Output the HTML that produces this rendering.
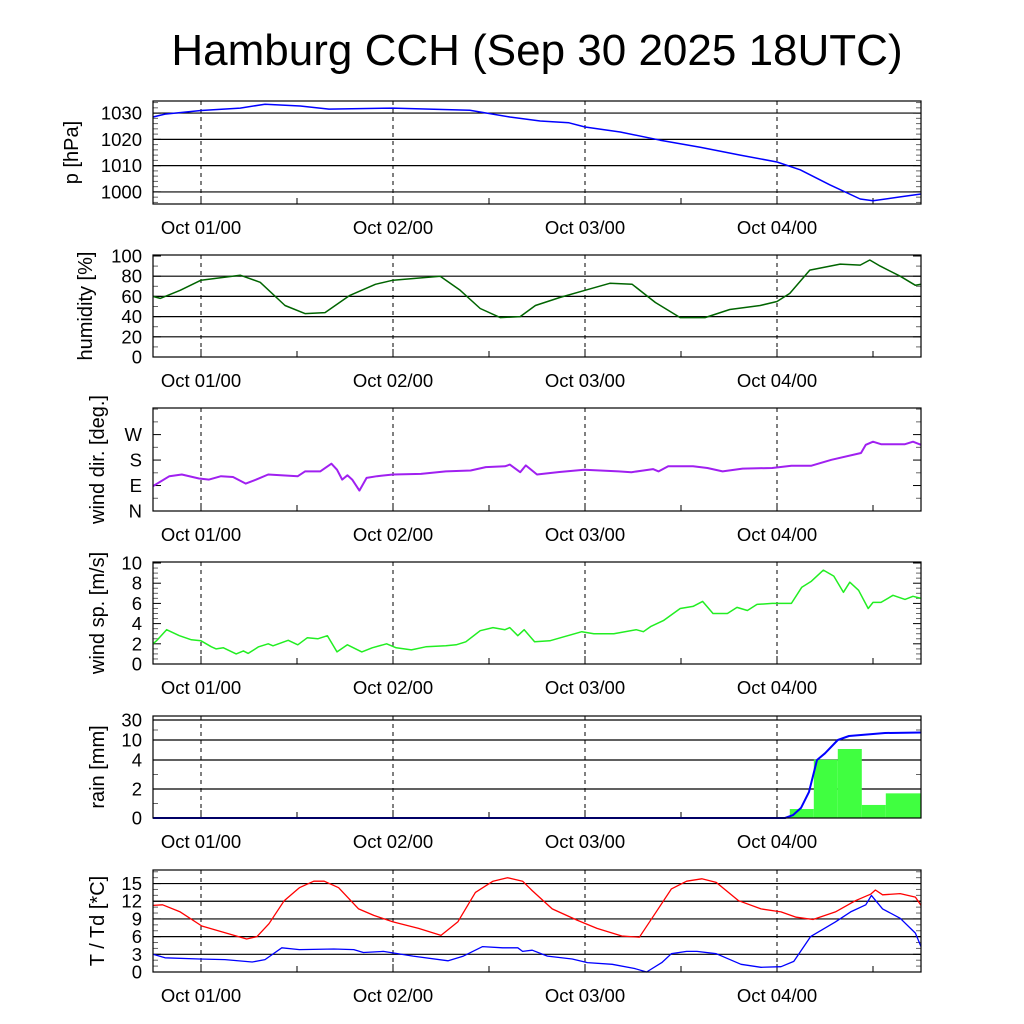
<!DOCTYPE html>
<html><head><meta charset="utf-8"><style>
body{margin:0;background:#fff;}
svg{display:block;font-family:"Liberation Sans",sans-serif;}
</style></head><body>
<svg id="chart" width="1024" height="1024" viewBox="0 0 1024 1024">
<text x="537" y="65" font-size="44" text-anchor="middle">Hamburg CCH (Sep 30 2025 18UTC)</text>
</svg>
<script>
// ---- data ----
const dayLabels = ["Oct 01/00","Oct 02/00","Oct 03/00","Oct 04/00"];
const dayHours = [6,30,54,78];
const presH = [0,1.5,6,10.9,14,18.4,22,30,39.6,44.6,48.4,52,54,58.4,63.4,68.4,73.4,78,80.9,84.6,88.4,90,93.4,96];
const presV = [1028.5,1029.6,1031,1031.9,1033.4,1032.7,1031.5,1031.9,1031.1,1028.5,1027,1026.3,1024.7,1022.8,1019.7,1017,1014,1011.4,1008.4,1002.7,997.3,996.6,998.1,999.2];
const humH = [0,0.9,3.4,6,10.9,13.4,16.5,19,21.5,24.6,27.8,30,35.9,38.4,40.9,43.4,45.9,47.8,50.9,54,57.1,59.9,62.8,65.9,69,72.1,75.9,78,79.6,82.1,85.9,88.4,89.6,90.9,93.4,95.3,96];
const humV = [60,58,66,76,81,74,51,43,44,61,72,76,80,66,48,39,40,51,59,66,73,72,54,39,39,47,51,55,63,86,92,91,96,90,80,71,72];
const dirH = [0,2.05,3.6,5.75,7,8.5,10,11.6,12.9,14.4,18.1,19,20.9,22.3,23,23.65,24.3,24.9,25.8,26.7,28,30,33.5,36.6,39.7,41.6,44,44.6,45.9,46.6,48,50.8,53.9,58.2,59.8,61.3,62.5,63.2,64.4,67.5,69.3,71.2,73.7,77.4,79.8,82.3,84.8,88.5,89.1,90,91,94,95,96];
const dirV = [88,123,129,115,111,123,120,97,111,129,123,140,140,167,146,111,126,111,72,117,123,129,131,140,143,155,158,164,137,161,129,138,146,140,137,143,148,140,158,158,152,140,150,152,160,160,181,205,234,245,236,236,245,234];
const spdH = [0,0.5,1.7,3.3,4.8,6,7.3,7.9,8.8,10.4,11.3,11.9,13.2,14.4,15,16.9,18.1,19.3,20.6,21.8,23,24.3,26.1,27.4,29.2,30.4,32.3,34.1,36.6,37.9,39.1,40.9,42.5,44,44.6,45.6,46.4,47.7,49.6,51.4,53.6,55.1,57.6,60.4,61.3,62.2,63.8,65.9,67.5,68.7,70,71.8,73,74.3,75.5,77.4,79.8,81.1,82.3,83.8,85.1,86.3,87.1,88.2,89.4,90,91,92.5,94,95,96];
const spdV = [2.0,2.35,3.4,2.8,2.4,2.3,1.7,1.5,1.6,1.0,1.3,1.05,1.7,2.0,1.8,2.35,1.9,2.6,2.5,2.8,1.2,1.9,1.2,1.6,2.0,1.6,1.4,1.7,1.8,1.9,2.2,3.3,3.6,3.4,3.6,2.8,3.4,2.2,2.3,2.7,3.2,3.0,3.0,3.4,3.2,3.7,4.3,5.5,5.7,6.2,5.0,5.0,5.6,5.3,5.9,6.0,6.0,7.6,8.2,9.3,8.7,7.1,8.1,7.3,5.5,6.1,6.1,6.8,6.4,6.7,6.5];
const rainBarStart = [79.6,82.6,85.6,88.6,91.6];
const rainBarEnd = [82.6,85.6,88.6,91.6,96];
const rainBarV = [0.62,4.1,7.3,0.9,1.7];
const rainSumH = [0,79,80,81,82,83,84,85.6,87,90,91.5,96];
const rainSumV = [0,0,0.2,0.7,1.8,4,6,10,14,16,17,17.5];
const tH = [0,1.2,3.4,6.1,8.9,11.7,13,14.5,16.4,18.3,20.1,21.4,23.2,25.7,27.6,30,33.2,36,38.1,40.3,42.5,44.3,46.2,47.4,49.9,53,55.5,58.6,60.8,63,64.8,66.7,68.6,70.4,73.2,76,78.5,80.4,82.5,85.3,87.8,89.7,90.3,91.2,93.4,95.3,96];
const tV = [11.3,11.4,10.2,7.8,6.7,5.6,6.0,8.2,12.1,14.3,15.4,15.4,14.3,10.7,9.6,8.5,7.4,6.2,8.5,13.5,15.4,16.0,15.4,13.8,10.7,8.8,7.4,6.1,5.9,10.4,14.1,15.4,15.8,15.2,12.1,10.7,10.2,9.3,8.9,10.2,12.1,13.2,13.9,13.1,13.3,12.7,11.3];
const tdH = [0,1.5,5.8,9,12.4,14,16.1,18.3,22.6,25.1,26.3,28.8,32.5,36.9,38.8,41.2,43.7,45.6,46.2,47.4,49.3,52.4,54.3,57.4,60.2,61.7,63.6,64.8,66.7,68,70.4,73.5,76,78.5,80.1,82.2,85.3,87.2,89.1,89.8,91.2,93.4,95.3,96];
const tdV = [3.0,2.4,2.2,2.1,1.7,2.1,4.1,3.8,3.9,3.8,3.3,3.5,2.7,1.9,2.7,4.3,4.1,4.1,3.5,3.7,2.7,2.2,1.6,1.3,0.6,0,1.6,3.1,3.5,3.5,3.1,1.3,0.8,0.9,1.8,6.0,8.5,10.2,11.4,13.0,10.7,9.1,6.6,4.3];

// ---- drawing ----
const NS="http://www.w3.org/2000/svg";
const svg=document.getElementById('chart');
const X0=153,X1=921;
const xs=h=>X0+(X1-X0)*h/96;
function mk(tag,attrs,parent){const e=document.createElementNS(NS,tag);for(const k in attrs)e.setAttribute(k,attrs[k]);(parent||svg).appendChild(e);return e;}

function panel(p){
  const g=mk('g',{});
  
  
  p.grid.forEach(v=>{const y=p.ys(v);const l=mk('line',{x1:X0,x2:X1,y1:y,y2:y,stroke:'#000','stroke-width':1.2},g);
    
    });
  p.minor.forEach(v=>{const y=p.ys(v);mk('line',{x1:X0,x2:X0+5,y1:y,y2:y,stroke:'#666'},g);mk('line',{x1:X1-5,x2:X1,y1:y,y2:y,stroke:'#666'},g);});
  p.ticks.forEach((v,i)=>{const y=p.ys(v);mk('line',{x1:X0,x2:X0+8,y1:y,y2:y,stroke:'#000'},g);mk('line',{x1:X1-8,x2:X1,y1:y,y2:y,stroke:'#000'},g);
    const t=mk('text',{x:142,y:y+6.5,'font-size':18.5,'text-anchor':'end'},g);t.textContent=p.tickLabels[i];
    
    });
  dayHours.forEach((h,i)=>{const x=xs(h);const l=mk('line',{x1:x,x2:x,y1:p.top,y2:p.bot,stroke:'#000','stroke-width':1,'stroke-dasharray':'4,4'},g);
    
    
    mk('line',{x1:x,x2:x,y1:p.bot-8,y2:p.bot,stroke:'#000'},g);
    const xm=xs(h+12);mk('line',{x1:xm,x2:xm,y1:p.bot-6,y2:p.bot,stroke:'#000'},g);
    const t=mk('text',{x:x,y:p.bot+30,'font-size':18.5,'text-anchor':'middle'},g);t.textContent=dayLabels[i];
    
    });
  const yl=mk('text',{x:0,y:0,'font-size':20,'text-anchor':'middle',transform:`translate(${p.lx},${(p.top+p.bot)/2}) rotate(-90)`},g);
  yl.textContent=p.label;
  
  
  return g;
}
function line(g,H,V,ys,color,name,w){
  const pts=H.map((h,i)=>xs(h).toFixed(1)+','+ys(V[i]).toFixed(1)).join(' ');
  const pl=mk('polyline',{points:pts,fill:'none',stroke:color,'stroke-width':w||1.5,'stroke-linejoin':'round'},g);
  
  
}
function frame(g,p){const r=mk('rect',{x:X0,y:p.top,width:X1-X0,height:p.bot-p.top,fill:'none',stroke:'#000','stroke-width':1.2},g);
  
  }
function lin(top,bot,lo,hi){return v=>bot-(v-lo)/(hi-lo)*(bot-top);}
function range(a,b,s){const r=[];for(let v=a;v<=b+1e-9;v+=s)r.push(+v.toFixed(3));return r;}

let p={name:'pressure',top:101,bot:204,label:'p [hPa]',lx:78};
p.ys=lin(101,204,995.4,1034.6);p.grid=[1000,1010,1020,1030];p.ticks=[1000,1010,1020,1030];p.tickLabels=['1000','1010','1020','1030'];p.minor=range(996,1034,2);
let g=panel(p);line(g,presH,presV,p.ys,'#0000ff','pressure-line');frame(g,p);

p={name:'humidity',top:255,bot:357,label:'humidity [%]',lx:92};
p.ys=lin(255,357,0,101);p.grid=[20,40,60,80];p.ticks=[0,20,40,60,80,100];p.tickLabels=['0','20','40','60','80','100'];p.minor=range(10,90,20);
g=panel(p);line(g,humH,humV,p.ys,'#006400','humidity-line');frame(g,p);

p={name:'wind-direction',top:408,bot:511,label:'wind dir. [deg.]',lx:104};
p.ys=lin(408,511,0,364);p.grid=[];p.ticks=[0,90,180,270];p.tickLabels=['N','E','S','W'];p.minor=range(45,315,90).concat([360]);
g=panel(p);line(g,dirH,dirV,p.ys,'#a020f0','wind-direction-line',2);frame(g,p);

p={name:'wind-speed',top:562,bot:664,label:'wind sp. [m/s]',lx:104};
p.ys=lin(562,664,0,10.1);p.grid=[];p.ticks=[0,2,4,6,8,10];p.tickLabels=['0','2','4','6','8','10'];p.minor=range(0.5,9.5,0.5).filter(v=>v%2!==0);
g=panel(p);line(g,spdH,spdV,p.ys,'#22ee22','wind-speed-line');frame(g,p);

const rk=[0,2,4,10,30],rp=[818,789,760,740,720];
const rys=v=>{if(v<=0)return 818;for(let i=1;i<rk.length;i++){if(v<=rk[i]){return rp[i-1]+(v-rk[i-1])/(rk[i]-rk[i-1])*(rp[i]-rp[i-1]);}}return 716;};
p={name:'rain',top:716,bot:818,label:'rain [mm]',lx:104,ys:rys};
p.grid=[2,4,10,30];p.ticks=[0,2,4,10,30];p.tickLabels=['0','2','4','10','30'];p.minor=[1,3,20];
g=panel(p);
rainBarV.forEach((v,i)=>{const x=xs(rainBarStart[i]),x2=xs(rainBarEnd[i]);const r=mk('rect',{x:x,y:rys(v),width:x2-x,height:818-rys(v),fill:'#40ff40'},g);
  
  });
line(g,rainSumH,rainSumV,rys,'#0000ff','rain-sum-line',2);frame(g,p);

p={name:'temperature',top:870,bot:972,label:'T / Td [*C]',lx:104};
p.ys=lin(870,972,0,17.3);p.grid=[3,6,9,12,15];p.ticks=[0,3,6,9,12,15];p.tickLabels=['0','3','6','9','12','15'];p.minor=range(1,17,1).filter(v=>v%3!==0);
g=panel(p);line(g,tH,tV,p.ys,'#ff0000','temperature-line',1.3);line(g,tdH,tdV,p.ys,'#0000ff','dewpoint-line',1.3);frame(g,p);
</script>
</body></html>
